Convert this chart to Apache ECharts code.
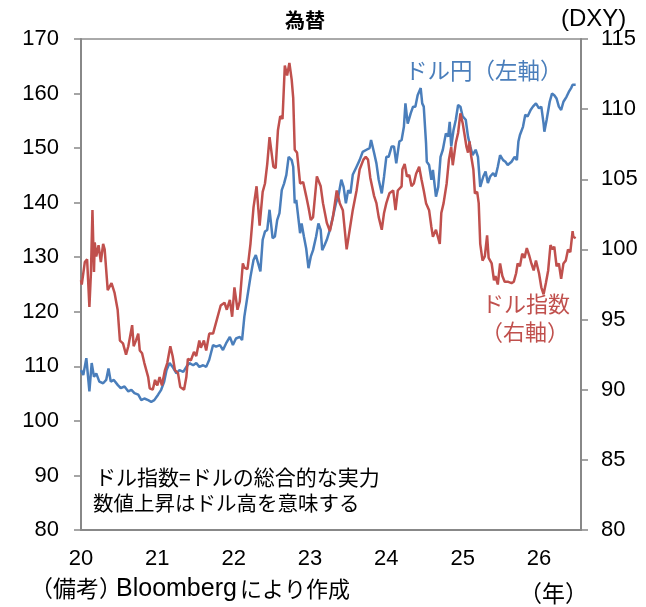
<!DOCTYPE html>
<html>
<head>
<meta charset="utf-8">
<script src="https://cdn.jsdelivr.net/npm/echarts@6/dist/echarts.min.js"></script>
<style>
html,body{margin:0;padding:0;background:#fff;}
#chart{width:646px;height:607px;}
</style>
</head>
<body>
<div id="chart"></div>
<script>
// ドル円（左軸）: decimal year and value
const jpyYears = [2020.00,2020.03,2020.07,2020.11,2020.14,2020.17,2020.20,2020.24,2020.29,2020.33,
2020.36,2020.39,2020.43,2020.48,2020.52,2020.57,2020.62,2020.66,2020.70,2020.75,
2020.79,2020.83,2020.88,2020.92,2020.96,2021.01,2021.05,2021.09,2021.12,2021.16,
2021.20,2021.25,2021.29,2021.34,2021.38,2021.42,2021.47,2021.51,2021.55,2021.60,
2021.64,2021.68,2021.73,2021.77,2021.82,2021.86,2021.90,2021.95,2021.99,2022.03,
2022.08,2022.11,2022.14,2022.18,2022.22,2022.26,2022.29,2022.32,2022.35,2022.38,
2022.41,2022.44,2022.47,2022.51,2022.54,2022.57,2022.60,2022.63,2022.66,2022.69,
2022.72,2022.76,2022.78,2022.80,2022.82,2022.84,2022.87,2022.89,2022.92,2022.95,
2022.98,2023.01,2023.04,2023.08,2023.11,2023.14,2023.16,2023.19,2023.22,2023.26,
2023.29,2023.34,2023.37,2023.41,2023.44,2023.47,2023.50,2023.53,2023.56,2023.61,
2023.65,2023.69,2023.74,2023.78,2023.80,2023.84,2023.87,2023.90,2023.94,2023.97,
2024.00,2024.03,2024.07,2024.10,2024.13,2024.17,2024.20,2024.23,2024.25,2024.28,
2024.32,2024.35,2024.38,2024.41,2024.45,2024.47,2024.49,2024.52,2024.53,2024.56,
2024.59,2024.61,2024.65,2024.68,2024.71,2024.74,2024.78,2024.81,2024.83,2024.85,
2024.88,2024.91,2024.94,2024.97,2025.00,2025.04,2025.07,2025.10,2025.13,2025.17,
2025.20,2025.23,2025.27,2025.30,2025.33,2025.36,2025.40,2025.43,2025.46,2025.49,
2025.53,2025.56,2025.59,2025.64,2025.68,2025.71,2025.73,2025.75,2025.79,2025.82,
2025.85,2025.89,2025.92,2025.96,2026.00,2026.03,2026.06,2026.07,2026.10,2026.14,
2026.17,2026.20,2026.23,2026.26,2026.29,2026.32,2026.36,2026.39,2026.42,2026.44,
2026.48];
const jpyValues = [109.3,108.4,111.5,105.4,110.6,108.1,108.7,107.2,106.9,107.5,
109.6,107.2,107.5,106.6,106.0,106.3,105.4,105.7,105.1,104.8,
103.8,104.1,103.8,103.5,103.8,104.8,105.7,107.2,109.3,110.6,
109.9,108.7,109.3,109.0,109.9,110.6,110.2,110.6,109.9,110.2,
109.9,111.2,113.9,113.6,113.9,113.0,114.2,115.4,113.9,115.1,
115.4,114.8,119.1,122.8,126.4,129.5,130.4,128.9,127.4,133.2,
134.7,135.0,138.7,133.5,133.8,136.8,138.1,142.3,143.5,145.1,
148.4,147.8,146.6,139.9,140.5,138.1,134.4,136.2,133.8,131.6,
128.0,130.1,131.3,133.8,136.2,135.0,131.3,132.2,133.2,135.0,
136.8,139.9,141.1,144.2,142.9,139.9,142.3,141.7,145.1,146.6,
147.8,149.3,149.7,150.0,151.5,149.1,147.2,144.2,141.7,144.8,
148.4,148.4,150.3,150.3,147.2,151.2,151.5,153.9,158.2,154.5,
156.4,157.6,157.6,159.7,161.0,158.2,157.6,150.9,147.5,146.9,
144.2,146.0,141.1,142.9,148.4,149.7,152.7,152.1,154.8,150.3,
153.3,155.2,157.9,157.6,155.8,155.2,152.1,150.3,148.7,149.7,
148.4,142.9,144.8,145.7,143.6,144.8,145.4,144.8,146.6,148.7,
147.8,147.5,146.9,147.5,148.4,147.8,151.2,152.4,153.9,156.1,
155.8,157.0,157.6,158.2,157.3,157.6,154.5,153.0,155.2,158.5,
160.0,159.7,159.1,157.6,157.0,158.5,159.4,160.3,161.0,161.6,
161.6];

// ドル指数（右軸）
const dxyYears = [2020.00,2020.01,2020.05,2020.08,2020.11,2020.13,2020.15,2020.17,2020.18,2020.20,
2020.23,2020.26,2020.29,2020.31,2020.35,2020.40,2020.44,2020.48,2020.51,2020.55,
2020.59,2020.62,2020.64,2020.67,2020.69,2020.72,2020.75,2020.77,2020.80,2020.83,
2020.88,2020.90,2020.94,2020.97,2021.00,2021.03,2021.06,2021.10,2021.13,2021.17,
2021.20,2021.23,2021.27,2021.30,2021.35,2021.38,2021.40,2021.44,2021.48,2021.51,
2021.55,2021.57,2021.61,2021.64,2021.68,2021.73,2021.76,2021.78,2021.83,2021.88,
2021.91,2021.95,2021.98,2022.01,2022.05,2022.08,2022.12,2022.14,2022.18,2022.19,
2022.22,2022.26,2022.30,2022.34,2022.38,2022.41,2022.44,2022.47,2022.52,2022.55,
2022.58,2022.61,2022.64,2022.67,2022.70,2022.73,2022.76,2022.78,2022.80,2022.83,
2022.87,2022.91,2022.95,2022.98,2023.01,2023.04,2023.09,2023.14,2023.17,2023.22,
2023.26,2023.30,2023.35,2023.39,2023.43,2023.48,2023.52,2023.56,2023.61,2023.65,
2023.70,2023.73,2023.76,2023.79,2023.84,2023.87,2023.90,2023.94,2023.97,2024.00,
2024.04,2024.09,2024.12,2024.15,2024.20,2024.21,2024.24,2024.27,2024.30,2024.33,
2024.36,2024.39,2024.43,2024.46,2024.49,2024.52,2024.56,2024.59,2024.61,2024.65,
2024.68,2024.70,2024.72,2024.75,2024.79,2024.82,2024.85,2024.87,2024.91,2024.94,
2024.97,2025.00,2025.03,2025.05,2025.07,2025.09,2025.11,2025.14,2025.16,2025.19,
2025.21,2025.23,2025.26,2025.29,2025.32,2025.34,2025.38,2025.41,2025.43,2025.46,
2025.49,2025.52,2025.55,2025.59,2025.64,2025.67,2025.70,2025.72,2025.75,2025.78,
2025.81,2025.84,2025.87,2025.90,2025.93,2025.96,2026.00,2026.03,2026.06,2026.09,
2026.12,2026.15,2026.18,2026.20,2026.23,2026.26,2026.29,2026.32,2026.35,2026.38,
2026.41,2026.44,2026.45,2026.48];
const dxyValues = [97.8,97.5,99.1,99.3,95.9,98.3,102.8,98.4,100.5,99.5,
100.3,99.1,100.4,100.0,97.1,97.6,96.9,95.7,93.5,93.3,
92.5,93.1,93.0,94.6,93.1,93.5,94.0,92.8,92.6,91.9,
90.9,90.1,90.0,90.7,90.3,90.9,90.3,91.4,91.9,93.1,
92.4,91.4,91.2,90.2,90.0,90.9,92.2,92.1,92.7,92.4,
93.5,93.0,93.5,92.8,94.0,94.0,94.6,94.5,96.0,96.2,
95.7,96.4,95.2,97.3,95.7,96.3,99.0,98.7,98.6,99.0,
100.4,103.0,104.5,101.7,104.1,104.7,106.1,108.0,105.9,105.8,
108.5,109.5,109.3,113.1,112.4,113.3,112.1,110.8,107.1,106.9,
104.7,104.8,103.8,103.0,102.1,102.3,105.2,104.5,103.3,101.9,
101.3,102.3,104.2,103.3,102.8,100.0,101.4,102.8,104.2,105.7,
106.4,106.6,106.4,105.1,103.8,103.3,102.3,101.4,102.6,103.3,
104.0,104.2,102.8,104.2,104.5,105.7,106.1,105.2,105.3,104.5,
104.7,105.4,105.9,105.0,104.2,103.3,102.8,101.6,100.9,101.4,
100.8,100.4,102.6,103.3,104.7,106.4,107.3,106.0,107.6,108.3,
109.7,109.0,108.0,107.3,106.9,107.7,106.7,105.7,104.0,104.1,
103.3,100.4,99.2,99.5,101.0,99.4,99.0,97.8,98.1,97.5,
99.0,98.1,97.7,97.7,97.6,97.7,98.3,99.0,98.8,99.7,
99.4,100.1,99.6,99.0,98.5,99.2,98.3,97.3,96.8,97.6,
98.5,100.3,100.0,100.2,98.8,99.0,97.9,99.0,99.2,100.0,
99.8,101.3,100.9,100.8];

const leftTicks = {min: 80, max: 170, interval: 10};
const rightTicks = {min: 80, max: 115, interval: 5};
const yearTicks = {min: 2020, max: 2026.55, interval: 1};

const BLUE = '#4A7EBB';
const RED = '#C0504D';
const NUM_FONT = "'Liberation Sans','Arial',sans-serif";
const JP_FONT = "'Noto Sans CJK JP','Noto Sans',sans-serif";

const zip = (xs, ys) => xs.map((x, i) => [x, ys[i]]);

const chart = echarts.init(document.getElementById('chart'), null, {renderer: 'canvas'});
chart.setOption({
  animation: false,
  backgroundColor: '#fff',
  grid: {left: 81, right: 65, top: 39, bottom: 77, show: true, borderColor: '#555', borderWidth: 1},
  xAxis: {
    type: 'value', min: yearTicks.min, max: yearTicks.max, interval: yearTicks.interval,
    axisLine: {show: true, lineStyle: {color: '#888', width: 2}},
    axisTick: {show: false},
    splitLine: {show: false},
    axisLabel: {
      color: '#000', fontSize: 22, fontFamily: NUM_FONT, margin: 18,
      formatter: v => Math.abs(v - Math.round(v)) < 1e-6 ? String(Math.round(v) - 2000) : ''
    }
  },
  yAxis: [
    {
      type: 'value', position: 'left', min: leftTicks.min, max: leftTicks.max, interval: leftTicks.interval,
      axisLine: {show: true, onZero: false, lineStyle: {color: '#888', width: 2}},
      axisTick: {show: true, length: 7, lineStyle: {color: '#888', width: 1.5}},
      splitLine: {show: false},
      axisLabel: {color: '#000', fontSize: 22, fontFamily: NUM_FONT, margin: 22}
    },
    {
      type: 'value', position: 'right', min: rightTicks.min, max: rightTicks.max, interval: rightTicks.interval,
      axisLine: {show: true, onZero: false, lineStyle: {color: '#888', width: 2}},
      axisTick: {show: true, length: 7, lineStyle: {color: '#888', width: 1.5}},
      splitLine: {show: false},
      axisLabel: {color: '#000', fontSize: 22, fontFamily: NUM_FONT, margin: 20}
    }
  ],
  series: [
    {
      name: 'ドル円', type: 'line', xAxisIndex: 0, yAxisIndex: 0,
      data: zip(jpyYears, jpyValues), showSymbol: false, symbol: 'none',
      lineStyle: {color: BLUE, width: 2.5}, itemStyle: {color: BLUE}, z: 3
    },
    {
      name: 'ドル指数', type: 'line', xAxisIndex: 0, yAxisIndex: 1,
      data: zip(dxyYears, dxyValues), showSymbol: false, symbol: 'none',
      lineStyle: {color: RED, width: 2.5}, itemStyle: {color: RED}, z: 4
    }
  ],
  graphic: [
    {type: 'text', left: 285, top: 10, style: {text: '為替', fontSize: 20, fontWeight: 'bold', fontFamily: JP_FONT, fill: '#000'}},
    {type: 'text', left: 561, top: 7, style: {text: '(DXY)', fontSize: 24, fontFamily: NUM_FONT, fill: '#000'}},
    {type: 'text', left: 405, top: 59, style: {text: 'ドル円（左軸）', fontSize: 22.5, fontFamily: JP_FONT, fill: BLUE}},
    {type: 'text', left: 482, top: 293, style: {text: 'ドル指数', fontSize: 22, fontFamily: JP_FONT, fill: RED}},
    {type: 'text', left: 481, top: 321, style: {text: '（右軸）', fontSize: 22, fontFamily: JP_FONT, fill: RED}},
    {type: 'text', left: 95, top: 467, style: {text: 'ドル指数=ドルの総合的な実力', fontSize: 21, fontFamily: JP_FONT, fill: '#000'}},
    {type: 'text', left: 93, top: 493, style: {text: '数値上昇はドル高を意味する', fontSize: 20.5, fontFamily: JP_FONT, fill: '#000'}},
    {type: 'text', left: 30, top: 577, style: {text: '（備考）', fontSize: 23, fontFamily: JP_FONT, fill: '#000'}},
    {type: 'text', left: 116, top: 577, style: {text: 'Bloomberg', fontSize: 25, fontFamily: NUM_FONT, fill: '#000'}},
    {type: 'text', left: 240, top: 578, style: {text: 'により作成', fontSize: 22, fontFamily: JP_FONT, fill: '#000'}},
    {type: 'text', left: 519, top: 582, style: {text: '（年）', fontSize: 23, fontFamily: JP_FONT, fill: '#000'}}
  ]
});
</script>
</body>
</html>
